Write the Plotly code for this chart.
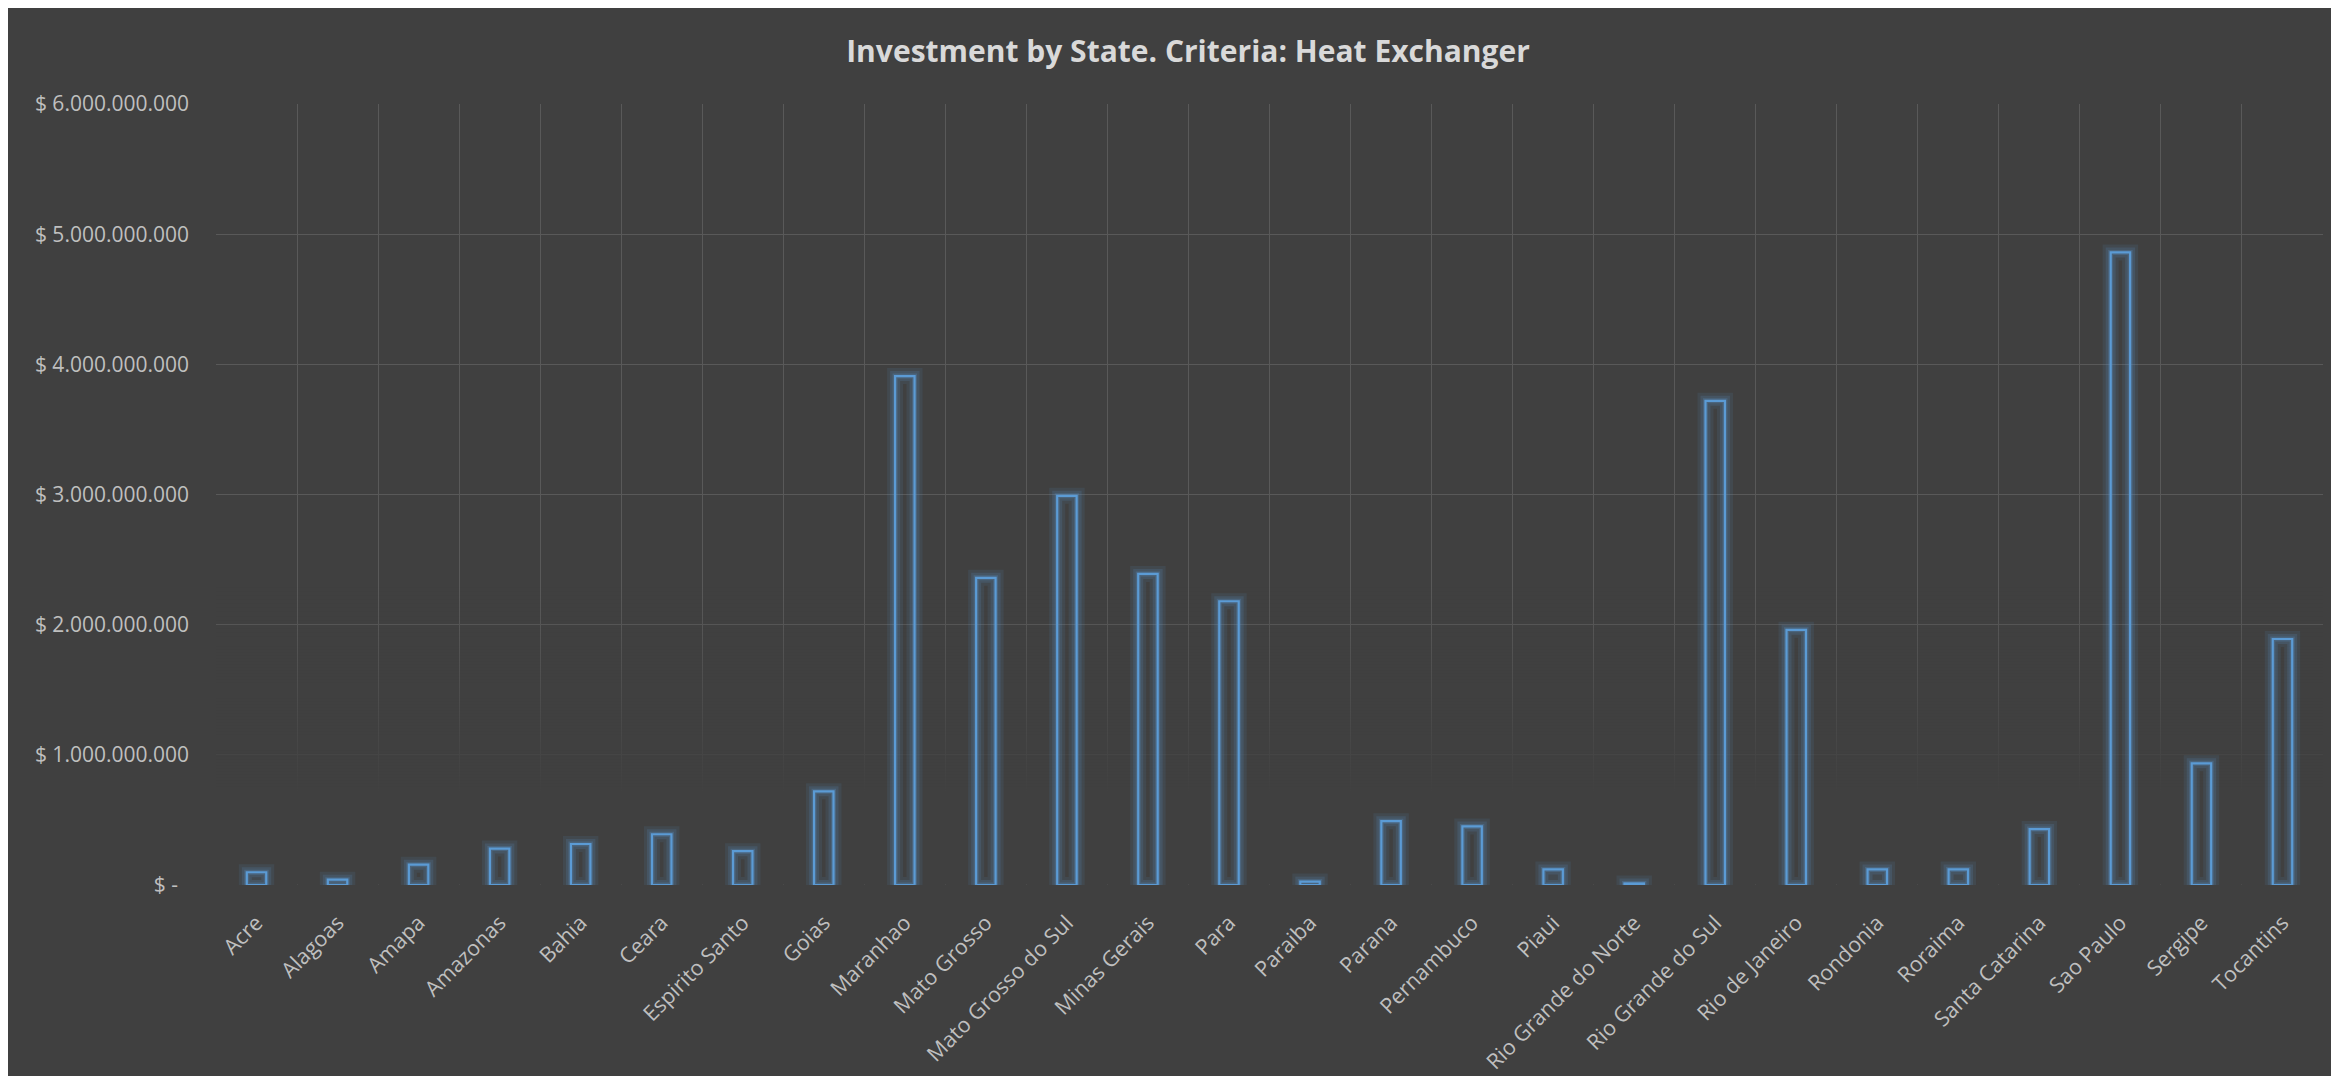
import plotly.graph_objects as go

states = ["Acre", "Alagoas", "Amapa", "Amazonas", "Bahia", "Ceara", "Espirito Santo",
          "Goias", "Maranhao", "Mato Grosso", "Mato Grosso do Sul", "Minas Gerais", "Para",
          "Paraiba", "Parana", "Pernambuco", "Piaui", "Rio Grande do Norte",
          "Rio Grande do Sul", "Rio de Janeiro", "Rondonia", "Roraima", "Santa Catarina",
          "Sao Paulo", "Sergipe", "Tocantins"]

investment = [0.098e9, 0.041e9, 0.156e9, 0.28e9, 0.315e9, 0.39e9, 0.26e9,
              0.72e9, 3.91e9, 2.36e9, 2.99e9, 2.39e9, 2.18e9,
              0.026e9, 0.49e9, 0.45e9, 0.12e9, 0.012e9,
              3.72e9, 1.96e9, 0.12e9, 0.12e9, 0.43e9,
              4.86e9, 0.935e9, 1.89e9]

y_tickvals = [0, 1e9, 2e9, 3e9, 4e9, 5e9, 6e9]
y_ticktext = ["$ -\u00a0\u00a0", "$ 1.000.000.000", "$ 2.000.000.000", "$ 3.000.000.000",
              "$ 4.000.000.000", "$ 5.000.000.000", "$ 6.000.000.000"]

# decorative fade of the gridlines toward the bottom of the plot area
fade_levels = [0, 0.7e9, 1.0e9, 1.3e9, 1.6e9, 1.9e9, 2.3e9]
fade_alpha = [1.0, 1.0, 0.8, 0.6, 0.4, 0.2, 0.0]

BG = "#404040"
BLUE = "#5B9BD5"
BAR_W = 0.24

fig = go.Figure()

fig.add_trace(go.Heatmap(
    x=states, y=fade_levels,
    z=[[a] * len(states) for a in fade_alpha],
    colorscale=[[0, "rgba(64,64,64,0)"], [1, "rgba(64,64,64,1)"]],
    zmin=0, zmax=1, showscale=False, zsmooth="best", hoverinfo="skip",
))

for lw, col in [(16, "rgba(91,155,213,0.10)"), (10, "rgba(91,155,213,0.15)"),
                (5, "rgba(91,155,213,0.24)")]:
    fig.add_trace(go.Bar(
        x=states, y=investment, width=BAR_W,
        marker=dict(color="rgba(0,0,0,0)", line=dict(color=col, width=lw)),
        hoverinfo="skip", showlegend=False,
    ))

fig.add_trace(go.Bar(
    x=states, y=investment, width=BAR_W,
    marker=dict(color="rgba(0,0,0,0)", line=dict(color=BLUE, width=2.2)),
    showlegend=False,
))

fig.update_layout(
    width=2360, height=1068,
    margin=dict(l=208, r=45, t=96, b=191, autoexpand=False),
    paper_bgcolor=BG, plot_bgcolor=BG,
    barmode="overlay",
    font=dict(family="Open Sans", color="#BFBFBF"),
    title=dict(text="Investment by State. Criteria: Heat Exchanger",
               x=0.5, xref="container", xanchor="center",
               y=1 - 43 / 1068, yanchor="middle",
               font=dict(family="Open Sans", size=30, color="#D9D9D9", weight="bold")),
    showlegend=False,
)

fig.update_xaxes(
    type="category", tickangle=-45, tickson="boundaries", automargin=False,
    showgrid=True, gridcolor="#595959", gridwidth=1.3,
    ticks="", showline=False, zeroline=False,
    tickfont=dict(size=21.5, color="#BFBFBF"), ticklabelstandoff=20,
)
fig.update_yaxes(
    range=[0, 6e9], tickvals=y_tickvals, ticktext=y_ticktext, automargin=False,
    showgrid=True, gridcolor="#595959", gridwidth=1.3,
    zeroline=False, showline=False, ticks="",
    tickfont=dict(size=21, color="#BFBFBF"), ticklabelstandoff=26,
)

fig.write_html("out.html", post_script="document.body.style.overflow='hidden';")
